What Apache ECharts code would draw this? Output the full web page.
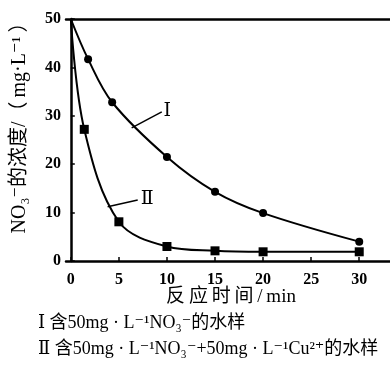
<!DOCTYPE html>
<html><head><meta charset="utf-8">
<script src="https://cdn.jsdelivr.net/npm/echarts@6/dist/echarts.min.js"></script>
<style>html,body{margin:0;padding:0;background:#fff}#c{width:390px;height:370px}</style>
</head><body><div id="c"></div>
<script>
// Data
const timeI = [0, 1.8, 4.3, 10, 15, 20, 30];
const concI = [50, 41.7, 32.8, 21.5, 14.3, 9.9, 4.0];
const timeII = [0, 1.4, 5, 10, 15, 20, 30];
const concII = [50, 27.2, 8.1, 3.0, 2.1, 1.9, 1.9];
const xTicks = [0, 5, 10, 15, 20, 25, 30];
const yTicks = [0, 10, 20, 30, 40, 50];
const yTitle = 'NO₃⁻的浓度/（\u2009mg·L⁻¹\u2009）';
const xTitle = '反\u2009应\u2009时\u2009间\u2009/\u2009min';
const note1 = 'Ⅰ 含50mg · L⁻¹NO₃⁻的水样';
const note2 = 'Ⅱ 含50mg · L⁻¹NO₃⁻+50mg · L⁻¹Cu²⁺的水样';

const FONT = '"Liberation Serif","DejaVu Serif","Noto Sans CJK SC",serif';

function pts(xs, ys) {
  return xs.map((x, i) => i === 0 ? {value: [x, ys[i]], symbol: 'none'} : [x, ys[i]]);
}

const chart = echarts.init(document.getElementById('c'));
chart.setOption({
  animation: false,
  grid: {left: 66, right: 0, top: 19, bottom: 109},
  xAxis: [{
    type: 'value', min: -0.5, max: 33.2,
    axisLine: {show: true, lineStyle: {color: '#000', width: 2.5}},
    axisTick: {show: true, inside: true, length: 4, customValues: xTicks, lineStyle: {color: '#000', width: 1.5}},
    axisLabel: {customValues: xTicks, color: '#000', fontFamily: FONT, fontWeight: 'bold', fontSize: 16, margin: 11},
    splitLine: {show: false}
  }, {
    type: 'value', min: -0.5, max: 33.2, position: 'top',
    axisLine: {show: true, lineStyle: {color: '#000', width: 2.5}},
    axisTick: {show: false}, axisLabel: {show: false}, splitLine: {show: false}
  }],
  yAxis: {
    type: 'value', min: 0, max: 50, interval: 10,
    axisLine: {show: true, lineStyle: {color: '#000', width: 2.5}},
    axisTick: {show: true, inside: true, length: 4, lineStyle: {color: '#000', width: 1.5}},
    axisLabel: {color: '#000', fontFamily: FONT, fontWeight: 'bold', fontSize: 16, margin: 5},
    splitLine: {show: false}
  },
  series: [{
    type: 'line', name: 'I', data: pts(timeI, concI), smooth: 0.35,
    symbol: 'circle', symbolSize: 8,
    lineStyle: {color: '#000', width: 2}, itemStyle: {color: '#000'},
    markLine: {
      silent: true, symbol: ['none', 'none'],
      lineStyle: {color: '#000', width: 1.5, type: 'solid'},
      label: {show: true, position: 'end', formatter: 'Ⅰ', color: '#000', fontFamily: FONT, fontSize: 19, distance: 2},
      data: [[{coord: [6.33, 27.5]}, {coord: [9.46, 30.8]}]]
    }
  }, {
    type: 'line', name: 'II', data: pts(timeII, concII), smooth: 0.35,
    symbol: 'rect', symbolSize: 9,
    lineStyle: {color: '#000', width: 2}, itemStyle: {color: '#000'},
    markLine: {
      silent: true, symbol: ['none', 'none'],
      lineStyle: {color: '#000', width: 1.5, type: 'solid'},
      label: {show: true, position: 'end', formatter: 'Ⅱ', color: '#000', fontFamily: FONT, fontSize: 19, distance: 3},
      data: [[{coord: [3.83, 11.2]}, {coord: [6.96, 12.6]}]]
    }
  }],
  graphic: [{
    type: 'text', x: 20, y: 123, rotation: Math.PI / 2,
    style: {text: yTitle, fill: '#000', font: '20px ' + FONT, align: 'center', verticalAlign: 'middle'}
  }, {
    type: 'text', x: 231, y: 297,
    style: {text: xTitle, fill: '#000', font: '19px ' + FONT, align: 'center', verticalAlign: 'middle'}
  }, {
    type: 'text', x: 38, y: 323,
    style: {text: note1, fill: '#000', font: '18px ' + FONT, align: 'left', verticalAlign: 'middle'}
  }, {
    type: 'text', x: 38, y: 349,
    style: {text: note2, fill: '#000', font: '18px ' + FONT, align: 'left', verticalAlign: 'middle'}
  }]
});
</script></body></html>
